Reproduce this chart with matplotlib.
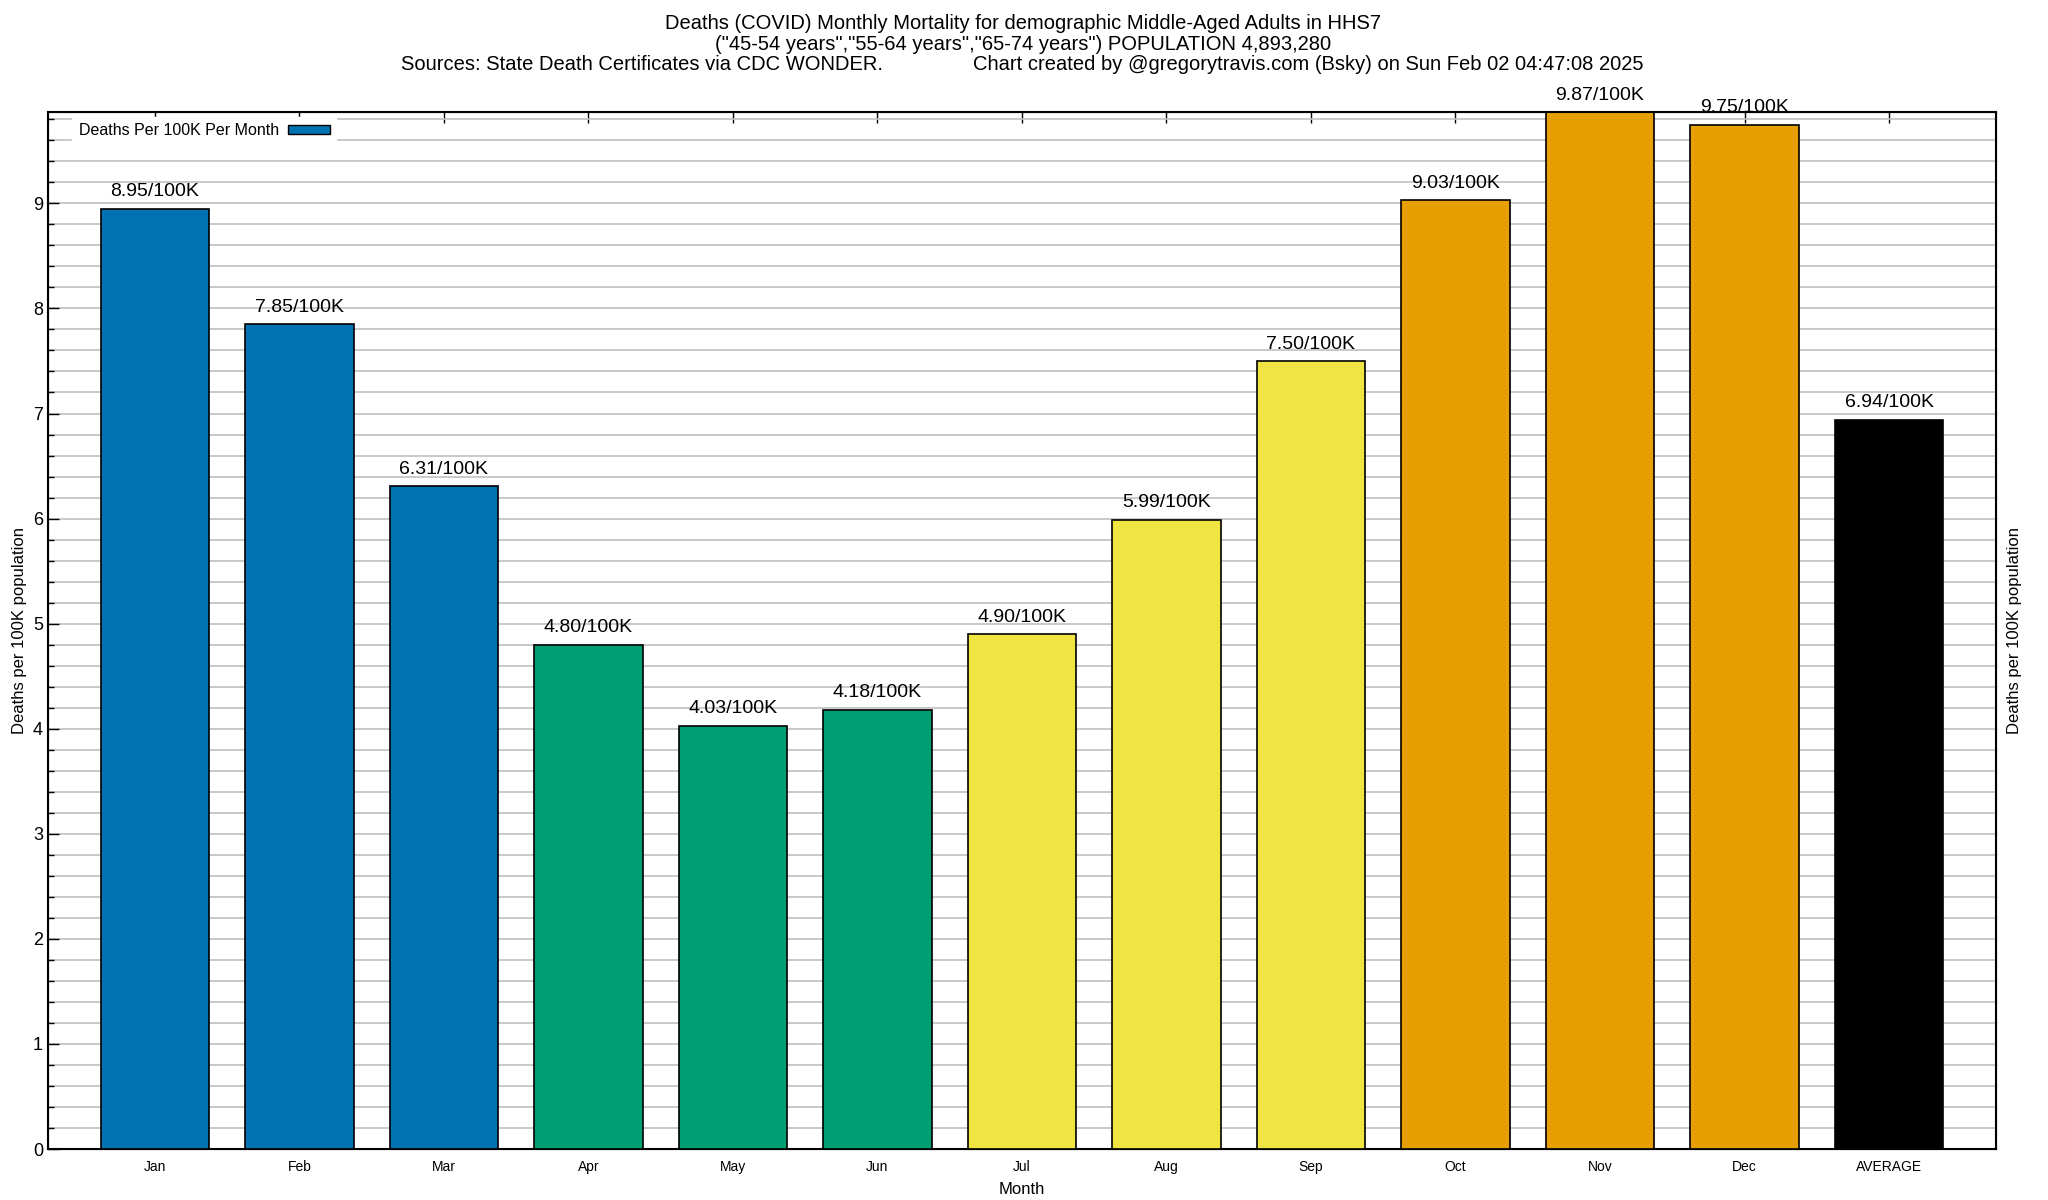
import numpy as np
import matplotlib
matplotlib.use("Agg")
from matplotlib import pyplot as plt
from matplotlib.patches import Patch

plt.rcParams['font.family'] = ['Liberation Sans', 'DejaVu Sans']

# data
months = ["Jan", "Feb", "Mar", "Apr", "May", "Jun", "Jul", "Aug", "Sep", "Oct", "Nov", "Dec", "AVERAGE"]
rates = [8.95, 7.85, 6.31, 4.80, 4.03, 4.18, 4.90, 5.99, 7.50, 9.03, 9.87, 9.75, 6.94]
bar_colors = ["#0072B2"] * 3 + ["#009E73"] * 3 + ["#F0E442"] * 3 + ["#E69F00"] * 3 + ["#000000"]

title_lines = ['Deaths (COVID) Monthly Mortality for demographic Middle-Aged Adults in HHS7',
               '("45-54 years","55-64 years","65-74 years") POPULATION 4,893,280',
               'Sources: State Death Certificates via CDC WONDER.                '
               'Chart created by @gregorytravis.com (Bsky) on Sun Feb 02 04:47:08 2025']

fig = plt.figure(figsize=(20.48, 12), dpi=100)
ax = fig.add_axes([0.0234, 0.0425, 0.9512, 0.8642])

x = np.arange(len(months))
ax.bar(x, rates, width=0.75, color=bar_colors, edgecolor="black", linewidth=1.2, zorder=3)

for xi, v in zip(x, rates):
    ax.text(xi, v + 0.08, "%.2f/100K" % v, ha="center", va="bottom", fontsize=14, clip_on=False, zorder=5)

ax.set_xlim(-0.74, len(months) - 1 + 0.74)
ax.set_ylim(0, max(rates))
ax.set_xticks(x)
ax.set_xticklabels(months, fontsize=10)
ax.set_yticks(np.arange(0, 10, 1))
ax.set_yticks(np.arange(0, 9.9, 0.2), minor=True)
ax.tick_params(axis="y", which="major", labelsize=13, direction="in", length=8, right=True, width=1)
ax.tick_params(axis="y", which="minor", direction="in", length=4, right=True, width=1)
ax.tick_params(axis="x", which="major", direction="in", length=8, top=True, pad=8, width=1)
ax.grid(axis="y", which="both", color="#c0c0c0", linewidth=1.2, zorder=0)
ax.set_axisbelow(True)
for s in ax.spines.values():
    s.set_linewidth(1.5)

ax.set_xlabel("Month", fontsize=12, labelpad=6)
ax.set_ylabel("Deaths per 100K population", fontsize=12, labelpad=4)
ax2 = ax.twinx()
ax2.set_ylim(ax.get_ylim())
ax2.set_yticks([])
ax2.set_ylabel("Deaths per 100K population", fontsize=12, labelpad=8)

leg = ax.legend(handles=[Patch(facecolor="#0072B2", edgecolor="black", label="Deaths Per 100K Per Month")],
                loc="upper left", markerfirst=False, fontsize=11.5, frameon=True, fancybox=False,
                edgecolor="white", framealpha=1, handlelength=2.6, handleheight=0.5, handletextpad=0.6,
                borderaxespad=0.3, bbox_to_anchor=(0.01, 1.0))
leg.set_zorder(4)

# title block, centred over the plot area
for i, line in enumerate(title_lines):
    fig.text(0.4993, 1 - (23.5 + 20.5 * i) / 1200, line, ha="center", va="center", fontsize=14.5)

fig.savefig("out.png", dpi=100)
